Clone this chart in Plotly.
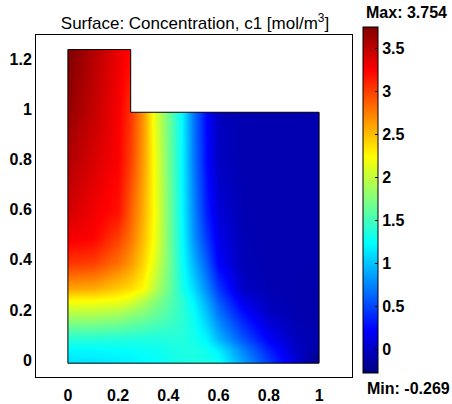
import plotly.graph_objects as go

# ---- data ----
x_nodes = [0, 0.1, 0.2, 0.25, 0.3, 0.35, 0.4, 0.45, 0.5, 0.55, 0.6, 0.7, 0.8, 0.9, 1.0]
y_nodes = [0, 0.05, 0.1, 0.2, 0.25, 0.3, 0.4, 0.5, 0.6, 0.8, 1.0, 1.2, 1.25]

c_y000 = [1.12, 1.14, 1.17, 1.19, 1.22, 1.25, 1.30, 1.33, 1.35, 1.33, 1.30, 0.88, 0.47, 0.10, -0.269]
c_y005 = [1.22, 1.22, 1.24, 1.25, 1.27, 1.28, 1.32, 1.35, 1.35, 1.30, 1.18, 0.75, 0.35, 0.03, -0.15]
c_y010 = [1.40, 1.40, 1.38, 1.37, 1.36, 1.36, 1.38, 1.38, 1.32, 1.20, 0.95, 0.55, 0.20, -0.02, -0.10]
c_y020 = [1.95, 1.95, 1.90, 1.82, 1.75, 1.65, 1.55, 1.42, 1.27, 1.00, 0.70, 0.28, 0.00, -0.08, -0.10]
c_y025 = [2.25, 2.25, 2.20, 2.12, 1.95, 1.78, 1.60, 1.42, 1.20, 0.90, 0.58, 0.13, -0.04, -0.08, -0.10]
c_y030 = [2.60, 2.58, 2.45, 2.38, 2.25, 1.95, 1.68, 1.35, 1.10, 0.78, 0.45, 0.00, -0.07, -0.08, -0.09]
c_y040 = [3.04, 3.00, 2.80, 2.65, 2.40, 2.10, 1.72, 1.30, 0.95, 0.60, 0.23, -0.05, -0.08, -0.08, -0.08]
c_y050 = [3.30, 3.25, 3.00, 2.80, 2.50, 2.18, 1.72, 1.27, 0.82, 0.45, 0.15, -0.06, -0.08, -0.08, -0.08]
c_y060 = [3.42, 3.30, 3.18, 2.88, 2.55, 2.20, 1.72, 1.25, 0.78, 0.35, 0.08, -0.07, -0.08, -0.08, -0.08]
c_y080 = [3.55, 3.40, 3.25, 3.00, 2.62, 2.18, 1.70, 1.24, 0.72, 0.27, 0.00, -0.08, -0.08, -0.08, -0.08]
c_y100 = [3.66, 3.48, 3.28, 3.05, 2.65, 2.12, 1.68, 1.24, 0.70, 0.25, -0.02, -0.08, -0.08, -0.08, -0.08]
c_y120 = [3.74, 3.53, 3.31, 3.20] + [None] * 11
c_y125 = [3.754, 3.55, 3.33, 3.22] + [None] * 11

c_min = -0.269
c_max = 3.754
cbar_ticks = [0, 0.5, 1, 1.5, 2, 2.5, 3, 3.5]
x_ticks = [0, 0.2, 0.4, 0.6, 0.8, 1]
x_ticklabels = ["0", "0.2", "0.4", "0.6", "0.8", "1"]
y_ticks = [0, 0.2, 0.4, 0.6, 0.8, 1, 1.2]
y_ticklabels = ["0", "0.2", "0.4", "0.6", "0.8", "1", "1.2"]

# geometry of the L-shaped domain
domain_x = [0, 1, 1, 0.25, 0.25, 0]
domain_y = [0, 0, 1, 1, 1.25, 1.25]

z = [c_y000, c_y005, c_y010, c_y020, c_y025, c_y030, c_y040, c_y050,
     c_y060, c_y080, c_y100, c_y120, c_y125]

jet = [[0, "rgb(0,0,128)"], [0.125, "rgb(0,0,255)"], [0.375, "rgb(0,255,255)"],
       [0.625, "rgb(255,255,0)"], [0.875, "rgb(255,0,0)"], [1, "rgb(128,0,0)"]]

FONT = "Liberation Sans"
L, R, T, B = 36, 100, 35, 27
PW, PH = 452 - L - R, 404 - T - B

fig = go.Figure()
fig.add_trace(go.Heatmap(
    x=x_nodes, y=y_nodes, z=z, zmin=c_min, zmax=c_max, zsmooth="best",
    colorscale=jet, hoverinfo="skip",
    colorbar=dict(
        x=(363 - L) / PW, xanchor="left", xpad=0,
        y=(404 - B - 200) / PH, yanchor="middle", ypad=0,
        lenmode="pixels", len=346, thickness=15,
        outlinewidth=1, outlinecolor="black",
        tickvals=cbar_ticks, ticktext=[f"{v:g}" for v in cbar_ticks],
        ticks="inside", ticklen=3, tickcolor="black",
        tickfont=dict(family=FONT, size=16, color="black", weight="bold"),
    ),
))

inner = "M " + " L ".join(f"{a},{b}" for a, b in zip(domain_x, domain_y)) + " Z"
outer = "M -0.1,-0.04 L 1.1,-0.04 L 1.1,1.29 L -0.1,1.29 Z "

axis_font = dict(family=FONT, size=16, color="black", weight="bold")

fig.update_layout(
    width=452, height=404,
    margin=dict(l=L, r=R, t=T, b=B, autoexpand=False),
    paper_bgcolor="white", plot_bgcolor="white",
    title=dict(text="Surface: Concentration, c1 [mol/m<sup>3</sup>]",
               x=195 / 452, xanchor="center", xref="container",
               y=1 - 23 / 404, yanchor="middle", yref="container",
               font=dict(family=FONT, size=17, color="black")),
    xaxis=dict(range=[-0.127, 1.131], tickvals=x_ticks, ticktext=x_ticklabels,
               showgrid=False, zeroline=False, showline=True, mirror=True,
               linecolor="black", linewidth=1, ticks="", automargin=False,
               ticklabelstandoff=4, tickfont=axis_font),
    yaxis=dict(range=[-0.055, 1.308], tickvals=y_ticks, ticktext=y_ticklabels,
               showgrid=False, zeroline=False, showline=True, mirror=True,
               linecolor="black", linewidth=1, ticks="", ticklabelshift=-3,
               automargin=False, ticklabelstandoff=0, tickfont=axis_font),
    shapes=[
        dict(type="path", path=outer + inner, fillcolor="white", fillrule="evenodd",
             line=dict(width=0), layer="above", xref="x", yref="y"),
        dict(type="path", path=inner, fillcolor="rgba(0,0,0,0)",
             line=dict(color="black", width=1), layer="above", xref="x", yref="y"),
    ],
    annotations=[
        dict(text=f"Max: {c_max:.3f}", x=(406 - L) / PW, y=(404 - B - 13) / PH,
             xref="paper", yref="paper", xanchor="center", yanchor="middle",
             showarrow=False, font=dict(family=FONT, size=16, color="black", weight="bold")),
        dict(text=f"Min: {c_min:.3f}", x=(408 - L) / PW, y=(404 - B - 388) / PH,
             xref="paper", yref="paper", xanchor="center", yanchor="middle",
             showarrow=False, font=dict(family=FONT, size=16, color="black", weight="bold")),
    ],
)

fig.write_html("out.html", config={"displayModeBar": False},
               post_script="document.body.style.margin='0px';")
